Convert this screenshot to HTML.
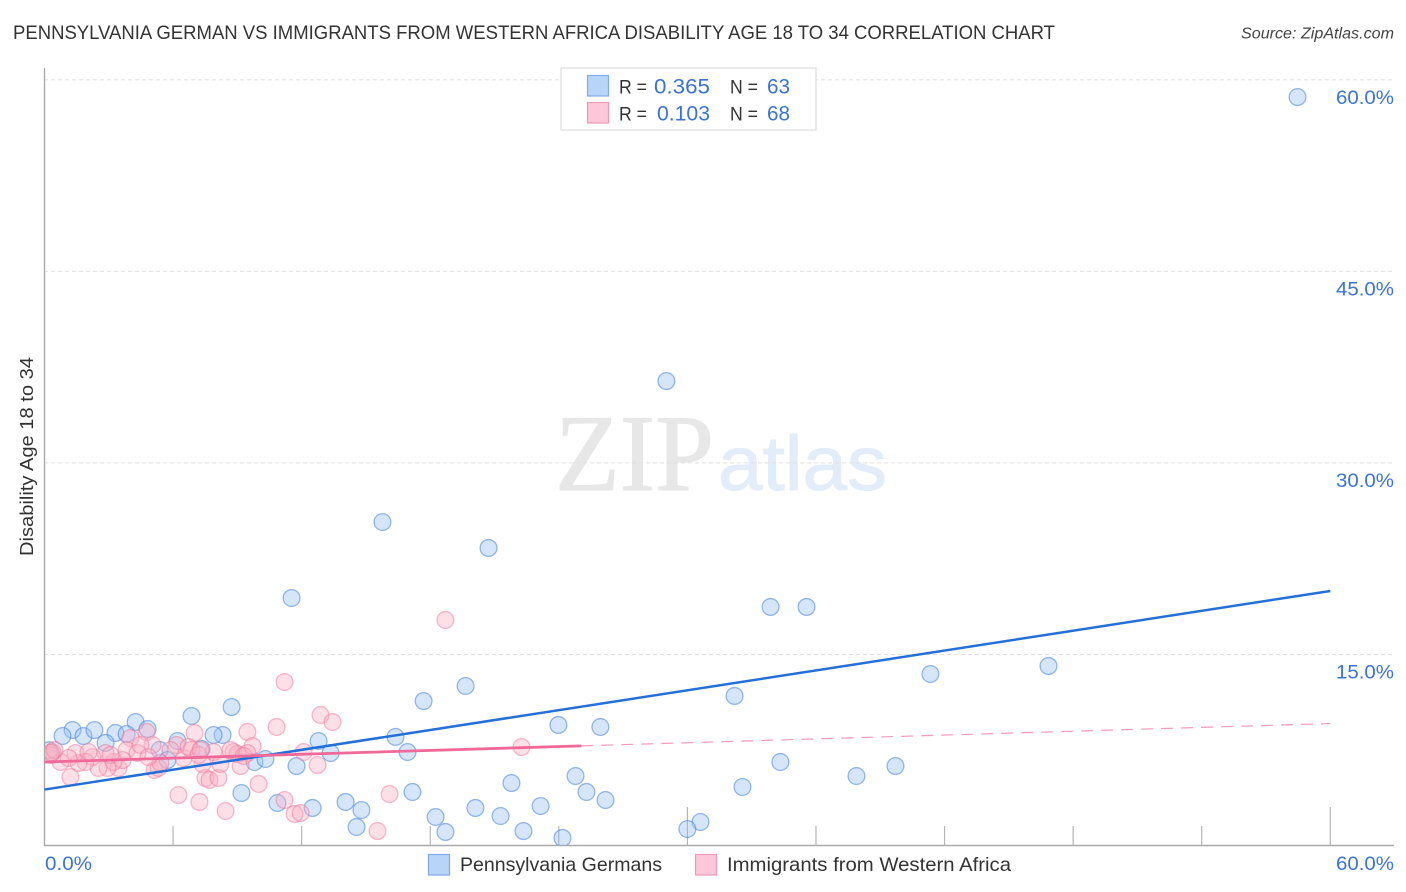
<!DOCTYPE html>
<html>
<head>
<meta charset="utf-8">
<title>Correlation chart</title>
<style>
html,body{margin:0;padding:0;background:#fff;}
svg{display:block;}
text{font-family:"Liberation Sans",sans-serif;}
</style>
</head>
<body>
<svg id="chart" width="1406" height="892" viewBox="0 0 1406 892" xmlns="http://www.w3.org/2000/svg">
  <defs>
    <clipPath id="plot-clip"><rect x="45" y="68" width="1349" height="777"/></clipPath>
  </defs>
  <rect x="0" y="0" width="1406" height="892" fill="#fff"/>
  <text x="13" y="39" font-size="19.5" fill="#333" textLength="1042" lengthAdjust="spacingAndGlyphs">PENNSYLVANIA GERMAN VS IMMIGRANTS FROM WESTERN AFRICA DISABILITY AGE 18 TO 34 CORRELATION CHART</text>
  <text x="1241" y="38.500" font-size="15.500" font-style="italic" fill="#444" textLength="153" lengthAdjust="spacingAndGlyphs">Source: ZipAtlas.com</text>
  <g>
    <text x="555" y="490" font-size="109" style="font-family:'Liberation Serif',serif" fill="#e7e7e7" stroke="#e7e7e7" stroke-width="1" textLength="159" lengthAdjust="spacingAndGlyphs">ZIP</text>
    <text x="718" y="490" font-size="77" fill="#e3ecf9" stroke="#e3ecf9" stroke-width="1" textLength="169" lengthAdjust="spacingAndGlyphs">atlas</text>
  </g>
  <g id="grid"></g>
  <g id="axes"></g>
  <g id="marks" clip-path="url(#plot-clip)"></g>
  <g id="trends"></g>
  <text transform="translate(33,556) rotate(-90)" font-size="18.500" fill="#333" textLength="199" lengthAdjust="spacingAndGlyphs">Disability Age 18 to 34</text>
  <g>
    <rect x="561" y="68" width="255" height="62" fill="#fff" stroke="#ddd" stroke-width="1.200"/>
    <rect x="587.500" y="75.500" width="21" height="20.500" fill="#b8d4f7" stroke="#7fabe6" stroke-width="1.200"/>
    <rect x="587.500" y="102.500" width="21" height="20.500" fill="#fcc7d8" stroke="#f09ab6" stroke-width="1.200"/>
    <text x="619" y="93.500" font-size="19" fill="#333" textLength="28" lengthAdjust="spacingAndGlyphs">R =</text>
    <text x="654" y="93.500" font-size="21" fill="#3b73d6" textLength="56" lengthAdjust="spacingAndGlyphs">0.365</text>
    <text x="730" y="93.500" font-size="19" fill="#333" textLength="28" lengthAdjust="spacingAndGlyphs">N =</text>
    <text x="767" y="93.500" font-size="21" fill="#3b73d6" textLength="23" lengthAdjust="spacingAndGlyphs">63</text>
    <text x="619" y="120.500" font-size="19" fill="#333" textLength="28" lengthAdjust="spacingAndGlyphs">R =</text>
    <text x="657" y="120.500" font-size="21" fill="#3b73d6" textLength="53" lengthAdjust="spacingAndGlyphs">0.103</text>
    <text x="730" y="120.500" font-size="19" fill="#333" textLength="28" lengthAdjust="spacingAndGlyphs">N =</text>
    <text x="767" y="120.500" font-size="21" fill="#3b73d6" textLength="23" lengthAdjust="spacingAndGlyphs">68</text>
  </g>
  <g>
    <rect x="428.500" y="854.500" width="21" height="20.500" fill="#b8d4f7" stroke="#7fabe6" stroke-width="1.200"/>
    <text x="460" y="871" font-size="19.500" fill="#333" textLength="202" lengthAdjust="spacingAndGlyphs">Pennsylvania Germans</text>
    <rect x="695.500" y="854.500" width="21" height="20.500" fill="#fcc7d8" stroke="#f09ab6" stroke-width="1.200"/>
    <text x="727" y="871" font-size="19.500" fill="#333" textLength="284" lengthAdjust="spacingAndGlyphs">Immigrants from Western Africa</text>
  </g>
</svg>
<script>
const yTickValues = [15, 30, 45, 60];
const yTickLabels = ["15.0%", "30.0%", "45.0%", "60.0%"];
const xTickValues = [6, 12, 18, 24, 30, 36, 42, 48, 54, 60];
const xEdgeValues = [0, 60];
const xEdgeLabels = ["0.0%", "60.0%"];

const blueX = [58.47,29.02,15.77,20.72,11.53,33.88,35.56,46.85,41.34,19.65,17.69,32.20,8.73,6.86,4.25,4.81,1.31,0.84,1.82,2.33,3.31,3.83,2.85,23.98,25.94,12.79,16.38,8.31,7.89,6.21,7.33,5.37,5.74,9.80,10.31,11.76,13.35,16.94,34.34,39.71,37.89,24.78,21.79,32.57,9.19,17.17,25.29,26.18,10.87,12.51,14.05,14.79,20.11,23.15,18.25,21.28,30.61,30.00,14.56,18.71,22.35,24.17,0.20];
const blueY = [58.65,36.41,25.37,23.34,19.42,18.72,18.72,14.10,13.47,12.53,11.35,11.75,10.88,10.18,9.71,9.16,9.08,8.61,8.61,9.08,8.85,8.77,8.07,9.48,9.32,8.22,8.54,8.69,8.69,8.22,7.60,7.52,6.73,6.58,6.81,6.26,7.28,7.36,6.58,6.26,5.48,5.48,4.93,4.62,4.15,4.23,4.23,3.60,3.37,2.98,3.45,2.82,2.98,3.13,2.27,2.35,1.88,1.33,1.49,1.10,1.17,0.63,7.50];
const pinkX = [18.71,11.20,12.88,13.44,10.83,9.47,7.00,9.71,4.76,22.26,12.09,12.74,16.10,15.54,11.20,11.67,11.95,9.99,8.45,7.23,6.25,1.21,7.51,7.70,8.12,5.13,5.32,9.15,8.21,7.37,7.89,8.82,9.01,9.47,6.49,6.86,6.16,5.04,4.01,3.83,4.34,3.45,3.64,3.22,2.94,2.52,2.85,2.24,1.91,1.59,1.45,0.75,1.12,0.37,0.28,0.47,5.41,4.48,5.88,6.72,7.19,8.68,0.30,2.05,3.08,4.85,7.28,9.29];
const pinkY = [17.70,12.84,10.26,9.71,9.32,8.93,8.85,7.83,8.93,7.75,7.36,6.34,4.07,1.17,3.60,2.51,2.58,4.86,2.74,3.45,3.99,5.40,5.33,5.17,5.33,5.95,6.11,6.26,6.42,6.42,7.36,7.36,7.20,7.28,6.89,7.52,7.91,7.91,8.46,7.52,7.28,6.11,6.73,6.58,6.11,6.11,7.28,6.97,6.58,6.50,7.28,6.58,6.89,7.36,7.13,7.52,6.50,7.91,7.52,7.75,7.13,7.52,7.30,7.36,7.13,6.97,7.52,7.05];
const blueTrendX = [0, 60];
const blueTrendY = [4.42, 19.97];
const pinkTrendX = [0, 25.05];
const pinkTrendY = [6.58, 7.84];
const pinkDashX = [25.05, 60];
const pinkDashY = [7.84, 9.59];

const NS = 'http://www.w3.org/2000/svg';
function xScale(v) { return 44.5 + v * 21.43; }
function yScale(v) { return 846 - v * 12.77; }
function make(tag, attrs, parent) {
  const el = document.createElementNS(NS, tag);
  for (const k in attrs) el.setAttribute(k, attrs[k]);
  parent.appendChild(el);
  return el;
}
const gridG = document.getElementById('grid');
const axesG = document.getElementById('axes');
const marksG = document.getElementById('marks');
const trendsG = document.getElementById('trends');

yTickValues.forEach(function (v, i) {
  const line = make('line', {x1: 44, x2: 1394, y1: yScale(v), y2: yScale(v), stroke: '#e0e0e0', 'stroke-width': 1, 'stroke-dasharray': '4 3'}, gridG);
  
  
  const label = make('text', {x: 1336, y: yScale(v) + 24, 'font-size': 19, fill: '#3b73d6', textLength: 58, lengthAdjust: 'spacingAndGlyphs'}, axesG);
  label.textContent = yTickLabels[i];
  
  
});

const yAxis = make('line', {x1: 44.5, x2: 44.5, y1: 68, y2: 846, stroke: '#aaa', 'stroke-width': 1.4}, axesG);


const xAxis = make('line', {x1: 44, x2: 1394, y1: 845.5, y2: 845.5, stroke: '#aaa', 'stroke-width': 1.4}, axesG);



xTickValues.forEach(function (v) {
  const top = v % 30 === 0 ? 807 : 826;
  const tick = make('line', {x1: xScale(v), x2: xScale(v), y1: top, y2: 845.5, stroke: '#b5b5b5', 'stroke-width': 1.2}, axesG);
  
  
});

xEdgeValues.forEach(function (v, i) {
  const label = make('text', {x: v === 0 ? 45 : 1336, y: 870, 'font-size': 19, fill: '#3b73d6', textLength: v === 0 ? 47 : 58, lengthAdjust: 'spacingAndGlyphs'}, axesG);
  label.textContent = xEdgeLabels[i];
  
  
});

blueX.forEach(function (v, i) {
  const c = make('circle', {cx: xScale(v), cy: yScale(blueY[i]), r: 8.4, fill: 'rgba(150,192,245,0.4)', stroke: 'rgba(70,130,215,0.55)', 'stroke-width': 1.3}, marksG);
  
  
});
pinkX.forEach(function (v, i) {
  const c = make('circle', {cx: xScale(v), cy: yScale(pinkY[i]), r: 8.4, fill: 'rgba(250,175,195,0.4)', stroke: 'rgba(235,120,155,0.5)', 'stroke-width': 1.3}, marksG);
  
  
});

const blueLine = make('line', {x1: xScale(blueTrendX[0]), x2: xScale(blueTrendX[1]), y1: yScale(blueTrendY[0]), y2: yScale(blueTrendY[1]), stroke: '#2470d8', 'stroke-width': 2.5}, trendsG);


const pinkDash = make('line', {x1: xScale(pinkDashX[0]), x2: xScale(pinkDashX[1]), y1: yScale(pinkDashY[0]), y2: yScale(pinkDashY[1]), stroke: '#f59ab8', 'stroke-width': 1.2, 'stroke-dasharray': '12 8'}, trendsG);


const pinkLine = make('line', {x1: xScale(pinkTrendX[0]), x2: xScale(pinkTrendX[1]), y1: yScale(pinkTrendY[0]), y2: yScale(pinkTrendY[1]), stroke: '#ef6a98', 'stroke-width': 2.8}, trendsG);


</script>
</body>
</html>
